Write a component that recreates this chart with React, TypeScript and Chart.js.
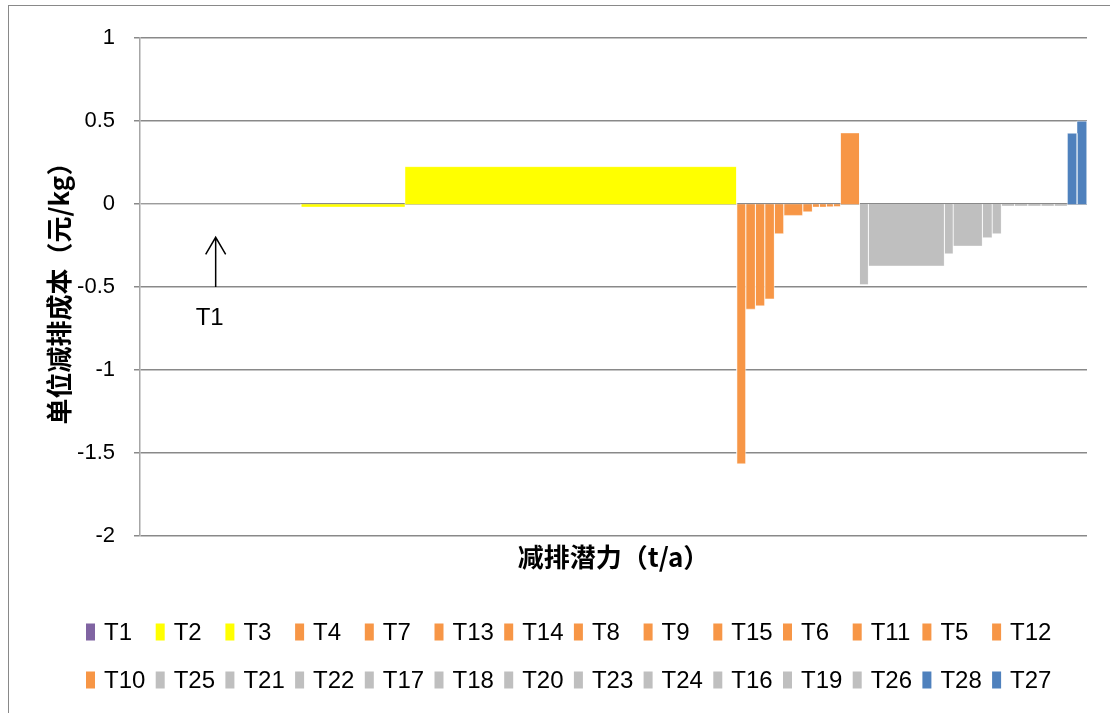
import React, { useEffect, useRef } from 'react';
import { Chart, registerables } from 'chart.js';

Chart.register(...registerables);

// Measures, in the order they are stacked along the x axis
const measures = ['T1', 'T2', 'T3', 'T4', 'T7', 'T13', 'T14', 'T8', 'T9', 'T15', 'T6', 'T11', 'T5', 'T12',
  'T10', 'T25', 'T21', 'T22', 'T17', 'T18', 'T20', 'T23', 'T24', 'T16', 'T19', 'T26', 'T28', 'T27'];

// Abatement potential (bar width, t/a)
const potential = [161, 104, 331.7, 9, 9.6, 9.4, 9.6, 9.4, 19, 9.6, 7, 7, 7, 7.2,
  19, 8.8, 76, 8.7, 29.3, 9.7, 9.3, 13.2, 13.2, 13.2, 13.2, 13.2, 9.7, 10];

// Unit abatement cost (bar height, 元/kg)
const unitCost = [0, -0.018, 0.226, -1.565, -0.633, -0.613, -0.571, -0.178, -0.068, -0.046, -0.018, -0.018, -0.016, -0.014,
  0.429, -0.485, -0.373, -0.299, -0.253, -0.202, -0.178, -0.012, -0.012, -0.012, -0.012, -0.012, 0.427, 0.5];

const PURPLE = '#8064A2';
const YELLOW = '#FFFF00';
const ORANGE = '#F79646';
const GRAY = '#BFBFBF';
const BLUE = '#4F81BD';

const seriesColors = [PURPLE, YELLOW, YELLOW, ORANGE, ORANGE, ORANGE, ORANGE, ORANGE, ORANGE, ORANGE, ORANGE, ORANGE, ORANGE, ORANGE,
  ORANGE, GRAY, GRAY, GRAY, GRAY, GRAY, GRAY, GRAY, GRAY, GRAY, GRAY, GRAY, BLUE, BLUE];

const yTicks = [1, 0.5, 0, -0.5, -1, -1.5, -2];
const yTickLabels = ['1', '0.5', '0', '-0.5', '-1', '-1.5', '-2'];

const xTitle = '减排潜力（t/a）';
const yTitle = '单位减排成本（元/kg）';
const annotationLabel = 'T1';

const LATIN = '"Liberation Sans", "DejaVu Sans", sans-serif';
const CJK = '"Noto Sans CJK SC", "Noto Sans", sans-serif';

export default function App() {
  const canvasRef = useRef<HTMLCanvasElement | null>(null);

  useEffect(() => {
    const canvas = canvasRef.current;
    if (!canvas) return;

    const starts: number[] = [];
    let acc = 0;
    potential.forEach((w) => {
      starts.push(acc);
      acc += w;
    });
    const total = acc;

    const datasets = measures.map((name, i) => {
      const x0 = starts[i];
      const x1 = x0 + potential[i];
      const v = unitCost[i];
      return {
        label: name,
        data: [
          { x: x0, y: 0 },
          { x: x0, y: v },
          { x: x1, y: v },
          { x: x1, y: 0 },
        ],
        backgroundColor: seriesColors[i],
        borderColor: 'rgba(255,255,255,0.45)',
        borderWidth: 1,
        fill: 'origin',
        pointRadius: 0,
        tension: 0,
      };
    });

    const arrowPlugin = {
      id: 't1Arrow',
      afterDatasetsDraw(chart: any) {
        const { ctx, scales } = chart;
        const xs = scales.x;
        const ys = scales.y;
        const idx = measures.indexOf(annotationLabel);
        const cx = xs.getPixelForValue(starts[idx] + potential[idx] * 0.47);
        const yBottom = ys.getPixelForValue(-0.5);
        const yTop = ys.getPixelForValue(-0.2);
        ctx.save();
        ctx.strokeStyle = '#000';
        ctx.lineWidth = 1.5;
        ctx.beginPath();
        ctx.moveTo(cx, yBottom);
        ctx.lineTo(cx, yTop);
        ctx.moveTo(cx - 10, yTop + 17);
        ctx.lineTo(cx, yTop);
        ctx.lineTo(cx + 10, yTop + 17);
        ctx.stroke();
        ctx.fillStyle = '#000';
        ctx.font = '24px ' + LATIN;
        ctx.textAlign = 'center';
        ctx.textBaseline = 'middle';
        ctx.fillText(annotationLabel, cx - 6, ys.getPixelForValue(-0.69));
        ctx.restore();
      },
    };

    const legendPlugin = {
      id: 'gridLegend',
      afterDraw(chart: any) {
        const { ctx } = chart;
        const cols = 14;
        const colW = 69.7;
        const left = 77;
        const top = chart.chartArea.bottom + 96;
        const rowH = 48;
        ctx.save();
        ctx.font = '24px ' + LATIN;
        ctx.textBaseline = 'middle';
        ctx.textAlign = 'left';
        chart.data.datasets.forEach((ds: any, i: number) => {
          const col = i % cols;
          const row = Math.floor(i / cols);
          const x = left + col * colW;
          const y = top + row * rowH;
          ctx.fillStyle = ds.backgroundColor;
          ctx.fillRect(x, y - 8.5, 9, 17);
          ctx.fillStyle = '#000';
          ctx.fillText(ds.label, x + 18, y + 1);
        });
        ctx.restore();
      },
    };

    const chart = new Chart(canvas, {
      type: 'line',
      data: { datasets: datasets as any },
      options: {
        animation: false,
        responsive: false,
        maintainAspectRatio: false,
        layout: { padding: { top: 27, right: 22, bottom: 132, left: 0 } },
        plugins: {
          legend: { display: false },
          tooltip: { enabled: false },
        },
        scales: {
          x: {
            type: 'linear',
            min: 0,
            max: total,
            grid: { display: false, drawTicks: false },
            border: { display: false },
            ticks: { display: false },
            title: {
              display: true,
              text: xTitle,
              color: '#000',
              font: { family: CJK, size: 26, weight: 'bold' },
              padding: { top: 0, bottom: 8 },
            },
            afterFit: (s: any) => {
              s.height = 45;
            },
          },
          y: {
            type: 'linear',
            min: -2,
            max: 1,
            afterBuildTicks: (s: any) => {
              s.ticks = yTicks.map((v) => ({ value: v }));
            },
            ticks: {
              color: '#000',
              font: { family: LATIN, size: 22 },
              padding: 19,
              callback: (v: any) => {
                const i = yTicks.indexOf(Number(v));
                return i >= 0 ? yTickLabels[i] : String(v);
              },
            },
            grid: { color: '#898989', lineWidth: 1.5, tickLength: 6 },
            border: { display: true, color: '#a6a6a6', width: 1.5 },
            title: {
              display: true,
              text: yTitle,
              color: '#000',
              font: { family: CJK, size: 26, weight: 'bold' },
              padding: { top: 35, bottom: 0 },
            },
            afterFit: (s: any) => {
              s.width = 131;
            },
          },
        },
      } as any,
      plugins: [arrowPlugin, legendPlugin],
    });

    return () => {
      chart.destroy();
    };
  }, []);

  return (
    <div style={{ position: 'fixed', left: 0, top: 0, width: 1110, height: 713, overflow: 'hidden', background: '#fff' }}>
      <div
        style={{
          position: 'absolute',
          left: 8,
          top: 5,
          width: 1110,
          height: 720,
          border: '1px solid #898989',
          background: '#fff',
        }}
      >
        <canvas ref={canvasRef} width={1100} height={707} style={{ display: 'block', width: 1100, height: 707 }} />
      </div>
    </div>
  );
}
